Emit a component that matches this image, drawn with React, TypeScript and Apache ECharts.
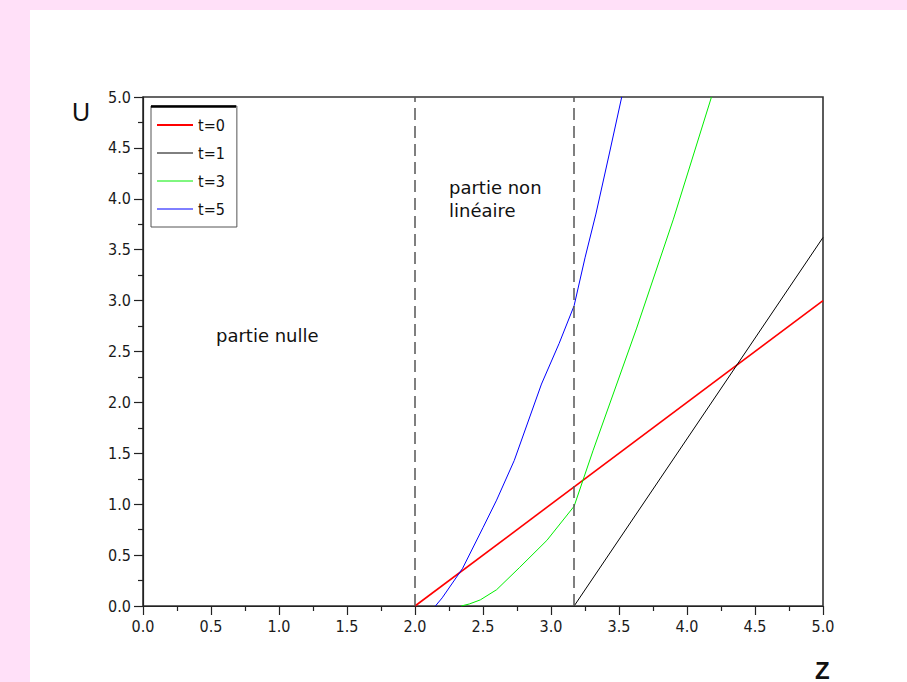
import React, { useEffect, useRef } from "react";
import * as echarts from "echarts";

// ---- data ----
const seriesNames = ["t=0", "t=1", "t=3", "t=5"];

const zT0 = [2.0, 5.0];
const uT0 = [0, 3.0];

const zT1 = [3.17, 5.0];
const uT1 = [0, 3.62];

const zT3 = [2.34, 2.4, 2.48, 2.6, 2.77, 2.97, 3.17, 3.31, 3.63, 3.9, 4.18];
const uT3 = [0, 0.02, 0.06, 0.16, 0.38, 0.645, 0.98, 1.53, 2.73, 3.8, 5.0];

const zT5 = [2.15, 2.2, 2.35, 2.5, 2.6, 2.73, 2.93, 3.06, 3.17, 3.25, 3.33, 3.43, 3.52];
const uT5 = [0, 0.08, 0.37, 0.77, 1.04, 1.43, 2.18, 2.58, 2.95, 3.42, 3.85, 4.45, 5.0];

const boundaries = [2.0, 3.17];

const xTicks = [0, 0.5, 1.0, 1.5, 2.0, 2.5, 3.0, 3.5, 4.0, 4.5, 5.0];
const yTicks = [0, 0.5, 1.0, 1.5, 2.0, 2.5, 3.0, 3.5, 4.0, 4.5, 5.0];

const colors = ["#ff0000", "#000000", "#00ee00", "#0000ff"];
const widths = [1.6, 1, 1, 1];

const zip = (zs: number[], us: number[]) => zs.map((z, i) => [z, us[i]]);

const TICK_FONT = "'Liberation Sans Narrow', 'DejaVu Sans Condensed', 'Liberation Sans', sans-serif";
const TEXT_FONT = "'DejaVu Sans', Verdana, sans-serif";

export default function App() {
  const ref = useRef<HTMLDivElement>(null);

  useEffect(() => {
    if (!ref.current) return;
    const chart = echarts.init(ref.current, undefined, { renderer: "svg" });
    const allData = [zip(zT0, uT0), zip(zT1, uT1), zip(zT3, uT3), zip(zT5, uT5)];

    const axisCommon = {
      type: "value" as const,
      interval: 0.5,
      splitLine: { show: false },
      axisLine: { show: true, onZero: false, lineStyle: { color: "#222", width: 1.2 } },
      axisTick: { show: true, inside: false, length: 9, lineStyle: { color: "#222", width: 1.2 } },
      minorTick: { show: true, splitNumber: 2, length: 5, lineStyle: { color: "#222", width: 1.2 } },
      axisLabel: {
        fontFamily: TICK_FONT,
        fontSize: 16,
        color: "#1a1a1a",
        margin: 12,
        formatter: (v: number) => v.toFixed(1),
      },
    };

    chart.setOption({
      animation: false,
      backgroundColor: "#ffe0f8",
      grid: {
        left: 143,
        top: 97,
        right: 84,
        bottom: 76,
        show: true,
        borderColor: "#333",
        borderWidth: 1.6,
        backgroundColor: "transparent",
      },
      xAxis: { ...axisCommon, min: xTicks[0], max: xTicks[xTicks.length - 1] },
      yAxis: { ...axisCommon, min: yTicks[0], max: yTicks[yTicks.length - 1] },
      legend: {
        orient: "vertical",
        left: 151,
        top: 106,
        padding: [11, 12, 10, 5],
        itemGap: 12,
        itemWidth: 36,
        itemHeight: 14,
        borderColor: "#555",
        borderWidth: 1,
        backgroundColor: "#ffffff",
        itemStyle: { opacity: 0 },
        textStyle: { fontFamily: TICK_FONT, fontSize: 16, color: "#111" },
        data: seriesNames.map((n, i) => ({ name: n, lineStyle: { width: i === 0 ? 2 : 1 } })),
      },
      series: seriesNames.map((name, i) => ({
        name,
        type: "line",
        data: allData[i],
        showSymbol: false,
        symbol: "none",
        lineStyle: { color: colors[i], width: widths[i] },
        itemStyle: { color: colors[i] },
        z: 3,
        ...(i === 0
          ? {
              markLine: {
                silent: true,
                symbol: ["none", "none"],
                label: { show: false },
                lineStyle: { color: "#555", type: [12, 6], width: 1.5 },
                data: boundaries.map((b) => ({ xAxis: b })),
              },
            }
          : {}),
      })),
      graphic: [
        {
          type: "rect",
          z: -10,
          silent: true,
          shape: { x: 30, y: 10, width: 877, height: 672 },
          style: { fill: "#ffffff" },
        },
        {
          type: "line",
          z: 100,
          silent: true,
          shape: { x1: 151, y1: 106.5, x2: 236, y2: 106.5 },
          style: { stroke: "#000", lineWidth: 2.5 },
        },
        {
          type: "text",
          x: 216,
          y: 335.5,
          style: { text: "partie nulle", fontFamily: TEXT_FONT, fontSize: 18, fill: "#111", verticalAlign: "middle" },
        },
        {
          type: "text",
          x: 449,
          y: 187,
          style: { text: "partie non", fontFamily: TEXT_FONT, fontSize: 18, fill: "#111", verticalAlign: "middle" },
        },
        {
          type: "text",
          x: 449,
          y: 210.5,
          style: { text: "linéaire", fontFamily: TEXT_FONT, fontSize: 18, fill: "#111", verticalAlign: "middle" },
        },
        {
          type: "text",
          x: 72,
          y: 112,
          style: { text: "U", fontFamily: "'Liberation Sans', Arial, sans-serif", fontSize: 25, fill: "#111", verticalAlign: "middle" },
        },
        {
          type: "text",
          x: 815,
          y: 682,
          style: { text: "Z", fontFamily: "'Liberation Sans', Arial, sans-serif", fontSize: 24, fontWeight: "bold", fill: "#111", verticalAlign: "bottom" },
        },
      ],
    });

    return () => chart.dispose();
  }, []);

  return (
    <div
      ref={ref}
      style={{ position: "absolute", left: 0, top: 0, width: 907, height: 682 }}
    />
  );
}
